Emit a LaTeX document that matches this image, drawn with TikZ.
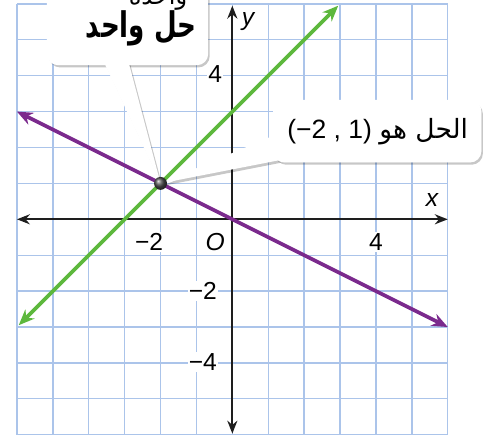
\documentclass[tikz,border=0pt]{standalone}
\usepackage{fontspec}
\setmainfont{Liberation Sans}
\newfontfamily\arabicfont[Script=Arabic]{DejaVu Sans}
\newfontfamily\arabicnarrow[Script=Arabic, FakeStretch=0.74]{DejaVu Sans}
\TeXXeTstate=1
\usetikzlibrary{arrows.meta,calc}

\definecolor{gridblue}{HTML}{ABC4EA}
\definecolor{lngreen}{HTML}{5DB83D}
\definecolor{lnpurple}{HTML}{7B2A8D}
\definecolor{axisblack}{HTML}{1E1E1E}

\begin{document}
\begin{tikzpicture}[
  gridline/.style={gridblue, line width=1.1pt},
  axis/.style={axisblack, line width=1.5pt,
    {Stealth[length=3.6mm,width=2.8mm]}-{Stealth[length=3.6mm,width=2.8mm]}},
  graph/.style={line width=3pt,
    {Stealth[length=4.4mm,width=3.6mm]}-{Stealth[length=4.4mm,width=3.6mm]}},
  lbl/.style={font=\fontsize{19.5}{22}\selectfont, fill=white, inner sep=1pt},
  shade/.style={preaction={fill=black, opacity=0.22,
    transform canvas={xshift=1.4pt, yshift=-2pt}}},
  callout/.style={rectangle, rounded corners=9pt, fill=white, shade},
  tail/.style={fill=white, shade},
]
  \useasboundingbox (-6.472,-6.092) rectangle (7.038,6.109);

  % grid and axes
  \draw[gridline] (-6,-6) grid (6,6);
  \coordinate (xl) at (-6,0);
  \coordinate (xr) at (6,0);
  \coordinate (yb) at (0,-5.97);
  \coordinate (yt) at (0,5.95);
  \draw[axis] (xl) -- (xr);
  \draw[axis] (yb) -- (yt);

  \node[lbl] (xlab) at (5.56,0.55) {\itshape x};
  \node[lbl] (ylab) at (0.44,5.5) {\itshape y};
  \node[lbl] (yfour) at (-0.48,4.05) {4};
  \node[lbl] (ymtwo) at (-0.82,-2.0) {−2};
  \node[lbl] (ymfour) at (-0.82,-3.98) {−4};
  \node[lbl] (xmtwo) at (-2.32,-0.63) {−2};
  \node[lbl] (orig) at (-0.48,-0.63) {\itshape O};
  \node[lbl] (xfour) at (4.0,-0.63) {4};

  % the two lines
  \coordinate (ga) at (-5.95,-2.95);
  \coordinate (gb) at (2.95,5.95);
  \coordinate (pa) at (-6,3);
  \coordinate (pb) at (6,-3);
  \draw[graph, lngreen] (ga) -- (gb);
  \draw[graph, lnpurple] (pa) -- (pb);

  \coordinate (p) at (-2,1);

  % callout: one solution
  \node[callout, minimum width=4.48cm, minimum height=2.7cm] (c1) at (-2.92,5.65) {};
  \fill[tail] (p) -- ($(c1.south west)+(1.56,0.15)$)
    -- ($(c1.south west)+(2.26,0.15)$) -- cycle;
  \fill[white, rounded corners=9pt] (c1.south west) rectangle (c1.north east);
  \node[anchor=base, inner sep=0pt,
    font=\arabicfont\fontsize{19}{22}\selectfont] (onept) at (-2.07,5.97)
    {\beginR واحدة\endR};
  \node[anchor=base, inner sep=0pt,
    font=\arabicnarrow\bfseries\fontsize{28}{30}\selectfont] (onesol) at (-2.54,5.06)
    {\beginR حل واحد\endR};

  % callout: the solution
  \node[callout, minimum width=5.79cm, minimum height=1.73cm] (c2) at (4.035,2.455) {};
  \fill[tail] (p) -- ($(c2.south west)+(0.16,0.06)$)
    -- ($(c2.south west)+(0.16,0.81)$) -- cycle;
  \fill[white, rounded corners=9pt] (c2.south west) rectangle (c2.north east);
  \node[inner sep=0pt, font=\fontsize{21}{26}\selectfont] (soltext) at (4.05,2.43)
    {(−2 , 1) {\arabicfont\beginR الحل هو\endR}};

  % intersection point
  \node[circle, inner sep=0pt, minimum size=0.36cm, shading=ball,
    ball color=black!70] (sol) at (p) {};
\end{tikzpicture}
\end{document}
